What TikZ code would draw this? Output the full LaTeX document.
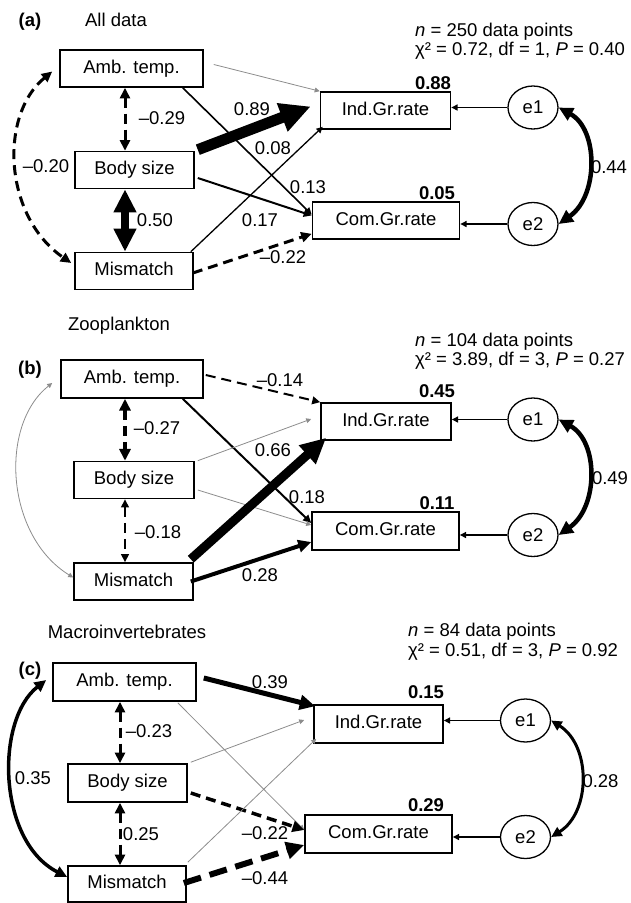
\documentclass[tikz,border=0pt]{standalone}
\usepackage{fontspec}
\setmainfont{Liberation Sans}
\usetikzlibrary{arrows.meta,calc,shapes.geometric}

\definecolor{grau}{gray}{0.55}

\tikzset{
  kasten/.style={draw, line width=1.6pt, inner sep=0pt, minimum height=37pt, text height=13.5pt, text depth=4pt},
  fehler/.style={draw, ellipse, line width=1.3pt, minimum width=50pt, minimum height=43pt, inner sep=0pt},
  pfeil/.style={-{Triangle[length=3pt 2.5,width=3pt 2.3]}},
  doppel/.style={{Triangle[length=3pt 2.5,width=3pt 2.3]}-{Triangle[length=3pt 2.5,width=3pt 2.3]}},
  gestrichelt/.style={dash pattern=on 10pt off 6pt},
  zahl/.style={inner sep=0pt},
  fett/.style={inner sep=0pt, font=\fontsize{18.5}{22}\selectfont\bfseries},
  statistik/.style={inner sep=0pt, anchor=base west},
}

\begin{document}
\begin{tikzpicture}[x=1pt, y=-1pt, font=\fontsize{18.5}{22}\selectfont]
\useasboundingbox (0,0) rectangle (630,903);

% (a) Kaesten
\node[kasten, minimum width=143pt] (ambtempa) at (131.5,68.5) {Amb. temp.};
\node[kasten, minimum width=119pt] (bodysizea) at (134.5,170) {Body size};
\node[kasten, minimum width=118pt] (mismatcha) at (134,271) {Mismatch};
\node[kasten, minimum width=130pt] (indgrratea) at (385.5,110.5) {Ind.Gr.rate};
\node[kasten, minimum width=147pt] (comgrratea) at (386,220.5) {Com.Gr.rate};
\node[fehler] (eonea) at (533,107.5) {e1};
\node[fehler] (etwoa) at (533,224) {e2};

% (a) Pfade
\draw[pfeil, grau, line width=0.8pt] ($(ambtempa.east)+(10,-4)$) -- (indgrratea.north west);
\draw[pfeil, line width=1.6pt] ($(ambtempa.south east)+(-21,0)$) -- ($(comgrratea.west)+(0,-6)$);
\draw[pfeil, line width=11pt] ($(bodysizea.north east)+(3,-1)$) -- ($(indgrratea.west)+(-9,-4)$);
\draw[pfeil, line width=2pt] ($(bodysizea.east)+(3,8)$) -- ($(comgrratea.west)+(0,-5)$);
\draw[pfeil, line width=1.3pt] ($(mismatcha.north east)+(-3,0)$) -- ($(indgrratea.south west)+(3,-3)$);
\draw[pfeil, gestrichelt, line width=3pt] ($(mismatcha.east)+(-1,2)$) -- ($(comgrratea.south west)+(0,-6)$);
\draw[doppel, gestrichelt, line width=3pt] ($(ambtempa.south)+(-6.5,0)$) -- ($(bodysizea.north)+(-9.5,0)$);
\draw[doppel, line width=8pt] ($(bodysizea.south)+(-9.5,0)$) -- ($(mismatcha.north)+(-9,0)$);
\draw[doppel, gestrichelt, line width=3pt] ($(ambtempa.west)+(-7,3)$) .. controls +(-53,43.5) and +(-68,-47) .. ($(mismatcha.west)+(-3,-8)$);
\draw[pfeil, line width=1.3pt] (eonea.west) -- (eonea.west -| indgrratea.east);
\draw[pfeil, line width=1.3pt] (etwoa.west) -- (etwoa.west -| comgrratea.east);
\draw[doppel, line width=4.5pt] (eonea.east) .. controls +(40,22) and +(40,-28) .. (etwoa.east);

% (a) Beschriftung
\node[font=\fontsize{18.5}{22}\selectfont\bfseries, inner sep=0pt] (panela) at (30,22) {(a)};
\node[zahl] (titela) at (116,20) {All data};
\node[statistik] (nzeilea) at (415,36) {\textit{n} = 250 data points};
\node[statistik] (chizeilea) at (415,55) {χ² = 0.72, df = 1, \textit{P} = 0.40};
\node[zahl] (bodyindlabela) at (252,109) {0.89};
\node[zahl] (ambindlabela) at (273,148) {0.08};
\node[zahl] (ambcomlabela) at (308,187) {0.13};
\node[zahl] (misindlabela) at (260,220) {0.17};
\node[zahl] (miscomlabela) at (283,257) {–0.22};
\node[zahl] (ambbodylabela) at (162,118) {–0.29};
\node[zahl] (bodymislabela) at (155,220) {0.50};
\node[zahl] (ambmislabela) at (46,166) {–0.20};
\node[zahl] (fehlerlabela) at (609,167) {0.44};
\node[fett] (indrsqa) at (433,83) {0.88};
\node[fett] (comrsqa) at (437,193) {0.05};

% (b) Kaesten
\node[kasten, minimum width=142pt, minimum height=38pt] (ambtempb) at (132,379) {Amb. temp.};
\node[kasten, minimum width=120pt] (bodysizeb) at (134,480) {Body size};
\node[kasten, minimum width=119pt] (mismatchb) at (133.5,581.5) {Mismatch};
\node[kasten, minimum width=130pt] (indgrrateb) at (386,421.5) {Ind.Gr.rate};
\node[kasten, minimum width=147pt, minimum height=38pt] (comgrrateb) at (385.5,531) {Com.Gr.rate};
\node[fehler] (eoneb) at (533,419.5) {e1};
\node[fehler] (etwob) at (533,535) {e2};

% (b) Pfade
\draw[pfeil, gestrichelt, line width=2pt] ($(ambtempb.east)+(2,-4)$) -- (indgrrateb.north west);
\draw[pfeil, line width=2pt] ($(ambtempb.south east)+(-21,0)$) -- ($(comgrrateb.west)+(0,-8)$);
\draw[pfeil, grau, line width=0.8pt] ($(bodysizeb.north east)+(3,0)$) -- ($(indgrrateb.west)+(-9,-2.5)$);
\draw[pfeil, grau, line width=0.8pt] ($(bodysizeb.east)+(3,10)$) -- ($(comgrrateb.west)+(0,-6)$);
\draw[pfeil, line width=9pt] ($(mismatchb.north east)+(-3,-3)$) -- ($(indgrrateb.south west)+(6,-3)$);
\draw[pfeil, line width=4pt] ($(mismatchb.east)+(-3,0)$) -- ($(comgrrateb.west)+(0,11)$);
\draw[doppel, gestrichelt, line width=3.5pt] ($(ambtempb.south)+(-7,0)$) -- ($(bodysizeb.north)+(-9,0)$);
\draw[doppel, gestrichelt, line width=2pt] ($(bodysizeb.south)+(-9,0)$) -- ($(mismatchb.north)+(-8.5,0)$);
\draw[doppel, grau, line width=0.8pt] ($(ambtempb.west)+(-8,4)$) .. controls +(-53,42) and +(-68,-42) .. ($(mismatchb.west)+(0,-4)$);
\draw[pfeil, line width=1.3pt] (eoneb.west) -- (eoneb.west -| indgrrateb.east);
\draw[pfeil, line width=1.3pt] (etwob.west) -- (etwob.west -| comgrrateb.east);
\draw[doppel, line width=4.5pt] (eoneb.east) .. controls +(40,22) and +(40,-28) .. (etwob.east);

% (b) Beschriftung
\node[font=\fontsize{18.5}{22}\selectfont\bfseries, inner sep=0pt] (panelb) at (30,370) {(b)};
\node[zahl] (titelb) at (119,326) {Zooplankton};
\node[statistik] (nzeileb) at (415,346.5) {\textit{n} = 104 data points};
\node[statistik] (chizeileb) at (415,365) {χ² = 3.89, df = 3, \textit{P} = 0.27};
\node[zahl] (ambindlabelb) at (280,380) {–0.14};
\node[zahl] (ambcomlabelb) at (307,497) {0.18};
\node[zahl] (misindlabelb) at (273,450) {0.66};
\node[zahl] (miscomlabelb) at (260,575) {0.28};
\node[zahl] (ambbodylabelb) at (157,428) {–0.27};
\node[zahl] (bodymislabelb) at (158,532) {–0.18};
\node[zahl] (fehlerlabelb) at (610,478) {0.49};
\node[fett] (indrsqb) at (437,391) {0.45};
\node[fett] (comrsqb) at (437,503) {0.11};

% (c) Kaesten
\node[kasten, minimum width=143pt, minimum height=38pt] (ambtempc) at (124.5,682) {Amb. temp.};
\node[kasten, minimum width=119pt, minimum height=38pt] (bodysizec) at (127.5,783) {Body size};
\node[kasten, minimum width=118pt, minimum height=36pt] (mismatchc) at (127,884) {Mismatch};
\node[kasten, minimum width=129pt, minimum height=38pt] (indgrratec) at (378.5,724) {Ind.Gr.rate};
\node[kasten, minimum width=147pt, minimum height=38pt] (comgrratec) at (378.5,834) {Com.Gr.rate};
\node[fehler] (eonec) at (525.5,720.5) {e1};
\node[fehler] (etwoc) at (525.5,837) {e2};

% (c) Pfade
\draw[pfeil, line width=5pt] ($(ambtempc.east)+(7,-4)$) -- ($(indgrratec.north west)+(2,2)$);
\draw[pfeil, grau, line width=0.8pt] ($(ambtempc.south east)+(-19,1)$) -- ($(comgrratec.west)+(0,-4)$);
\draw[pfeil, grau, line width=0.8pt] ($(bodysizec.north east)+(3,-1)$) -- ($(indgrratec.west)+(-9,-4)$);
\draw[pfeil, gestrichelt, line width=3.5pt] ($(bodysizec.east)+(3,10)$) -- ($(comgrratec.west)+(0,-4)$);
\draw[pfeil, grau, line width=0.8pt] ($(mismatchc.north east)+(1,-3)$) -- ($(indgrratec.south west)+(3,-5)$);
\draw[pfeil, dash pattern=on 18pt off 9pt, line width=6pt] ($(mismatchc.east)+(-3,-1)$) -- ($(comgrratec.west)+(0,11)$);
\draw[doppel, gestrichelt, line width=3pt] ($(ambtempc.south)+(-4.5,0)$) -- ($(bodysizec.north)+(-7.5,0)$);
\draw[doppel, gestrichelt, line width=3pt] ($(bodysizec.south)+(-7.5,0)$) -- ($(mismatchc.north)+(-7,0)$);
\draw[doppel, line width=3.5pt] ($(ambtempc.west)+(-6,-2)$) .. controls +(-51,40) and +(-70,-36) .. ($(mismatchc.west)+(0,-7)$);
\draw[pfeil, line width=1.3pt] (eonec.west) -- (eonec.west -| indgrratec.east);
\draw[pfeil, line width=1.3pt] (etwoc.west) -- (etwoc.west -| comgrratec.east);
\draw[doppel, line width=3pt] (eonec.east) .. controls +(40,25) and +(40,-25) .. (etwoc.east);

% (c) Beschriftung
\node[font=\fontsize{18.5}{22}\selectfont\bfseries, inner sep=0pt] (panelc) at (30,671) {(c)};
\node[zahl] (titelc) at (127,632) {Macroinvertebrates};
\node[statistik] (nzeilec) at (408,636.5) {\textit{n} = 84 data points};
\node[statistik] (chizeilec) at (408,656.5) {χ² = 0.51, df = 3, \textit{P} = 0.92};
\node[zahl] (ambindlabelc) at (270,682) {0.39};
\node[zahl] (bodycomlabelc) at (265,833) {–0.22};
\node[zahl] (miscomlabelc) at (265,878) {–0.44};
\node[zahl] (ambbodylabelc) at (149,731) {–0.23};
\node[zahl] (bodymislabelc) at (141,834.5) {0.25};
\node[zahl] (ambmislabelc) at (33,778) {0.35};
\node[zahl] (fehlerlabelc) at (600.5,781.5) {0.28};
\node[fett] (indrsqc) at (426,692.5) {0.15};
\node[fett] (comrsqc) at (426,805) {0.29};
\end{tikzpicture}
\end{document}
